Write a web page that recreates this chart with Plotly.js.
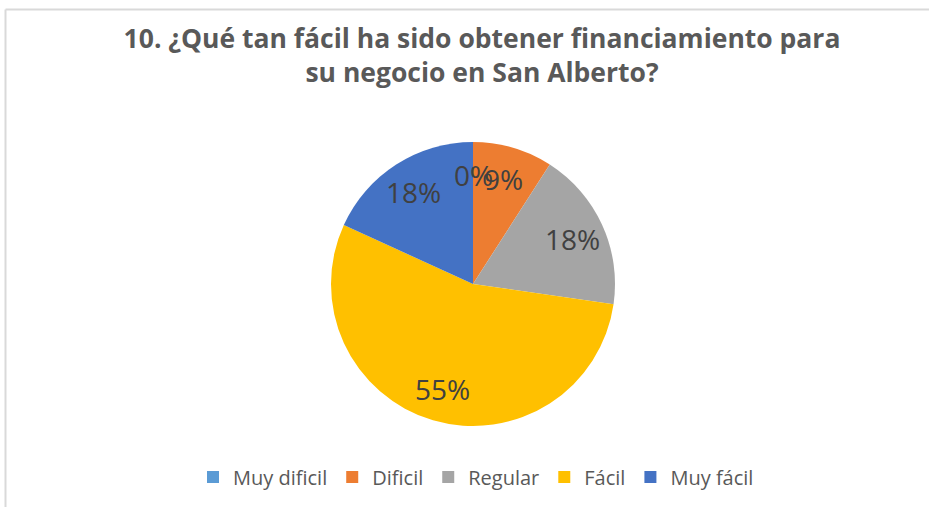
<!DOCTYPE html>
<html>
<head>
<meta charset="utf-8">
<script src="https://cdn.plot.ly/plotly-3.0.1.min.js"></script>
<style>html,body{margin:0;padding:0;background:#fff}#chart{width:929px;height:507px}</style>
</head>
<body>
<div id="chart"></div>
<script>
const categories = ["Muy dificil", "Dificil", "Regular", "Fácil", "Muy fácil"];
const counts = [0, 1, 2, 6, 2];
const percentLabels = ["0%", "9%", "18%", "55%", "18%"];
const colors = ["#5B9BD5", "#ED7D31", "#A5A5A5", "#FFC000", "#4472C4"];

const W = 929, H = 507;
const cx = 473, cy = 284, R = 142;
const labelR = 0.77 * R;

const total = counts.reduce((a, b) => a + b, 0);
let cum = 0;
const annotations = counts.map((v, i) => {
  const mid = (cum + v / 2) / total * 2 * Math.PI;
  cum += v;
  const px = cx + labelR * Math.sin(mid);
  const py = cy - labelR * Math.cos(mid);
  return {
    x: px / W, y: 1 - py / H, xref: "paper", yref: "paper",
    text: percentLabels[i], showarrow: false,
    xanchor: "center", yanchor: "middle",
    font: {family: "Open Sans, sans-serif", size: 28, color: "#404040"}
  };
});

const data = [{
  type: "pie",
  labels: categories,
  values: counts,
  sort: false,
  direction: "clockwise",
  rotation: 0,
  marker: {colors: colors, line: {width: 0}},
  textinfo: "none",
  hoverinfo: "label+percent",
  domain: {x: [(cx - R) / W, (cx + R) / W], y: [1 - (cy + R) / H, 1 - (cy - R) / H]}
}];

const layout = {
  width: W, height: H,
  margin: {l: 0, r: 0, t: 0, b: 0},
  paper_bgcolor: "#ffffff",
  title: {
    text: "<b>10. ¿Qué tan fácil ha sido obtener financiamiento para<br>su negocio en San Alberto?</b>",
    x: 482 / W, xanchor: "center",
    y: 1 - 48 / H, yanchor: "middle",
    font: {family: "Open Sans, sans-serif", size: 26.5, color: "#595959"}
  },
  showlegend: true,
  legend: {
    orientation: "h",
    x: 476 / W, xanchor: "center",
    y: 1 - 477 / H, yanchor: "middle",
    font: {family: "Open Sans, sans-serif", size: 20, color: "#595959"},
    itemwidth: 30, traceorder: "normal"
  },
  annotations: annotations,
  shapes: [
    {type: "line", xref: "paper", yref: "paper", x0: 5.5 / W, x1: 1, y0: 1 - 9.5 / H, y1: 1 - 9.5 / H, line: {color: "#d9d9d9", width: 2}},
    {type: "line", xref: "paper", yref: "paper", x0: 5.5 / W, x1: 5.5 / W, y0: 0, y1: 1 - 9.5 / H, line: {color: "#d9d9d9", width: 2}}
  ]
};

Plotly.newPlot("chart", data, layout, {displayModeBar: false, staticPlot: true});
</script>
</body>
</html>
